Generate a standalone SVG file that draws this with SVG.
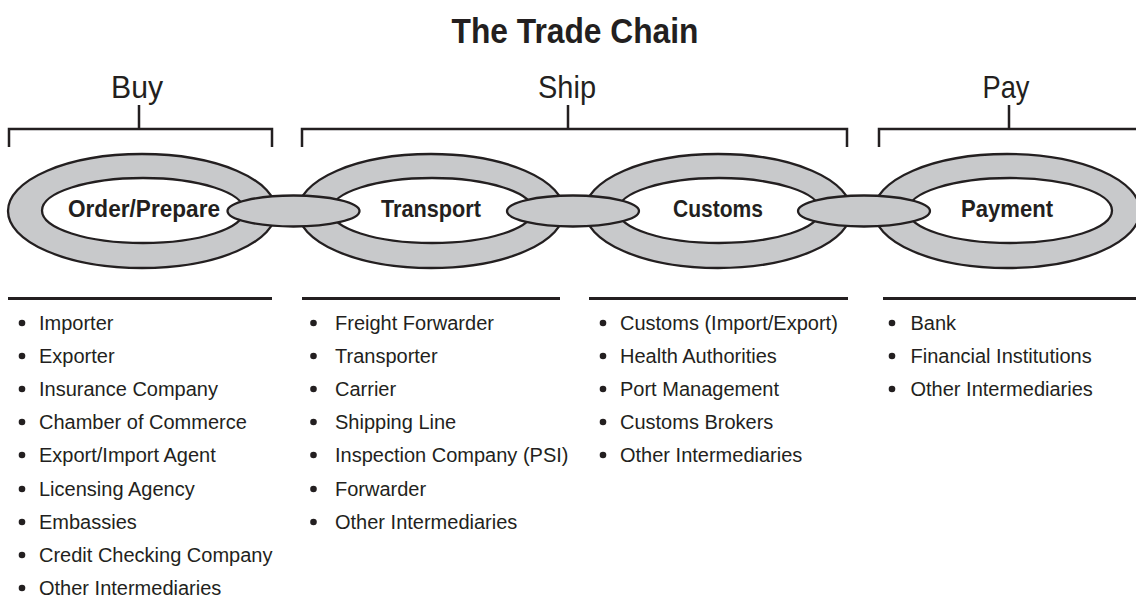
<svg xmlns="http://www.w3.org/2000/svg" width="1136" height="601" viewBox="0 0 1136 601">
  <style>
    .title { font-family: "Liberation Sans Narrow", "Liberation Sans", Arial, sans-serif; font-weight: bold; font-size: 35px; fill: #231f20; text-anchor: middle; }
    .phase { font-family: "Liberation Sans", Arial, sans-serif; font-size: 32px; fill: #231f20; text-anchor: middle; }
    .label { font-family: "Liberation Sans Narrow", "Liberation Sans", Arial, sans-serif; font-weight: bold; font-size: 24px; fill: #231f20; text-anchor: middle; }
    .item { font-family: "Liberation Sans", Arial, sans-serif; font-size: 20px; fill: #231f20; }
    .dot { fill: #231f20; }
    .bracket { fill: none; stroke: #231f20; stroke-width: 2.5; }
    .rule { stroke: #231f20; stroke-width: 3; }
    .ring { fill: #c8c9cb; stroke: #231f20; stroke-width: 2.3; }
    .hole { fill: #ffffff; stroke: #231f20; stroke-width: 2.3; }
    .joint { fill: #c8c9cb; stroke: #231f20; stroke-width: 2.3; }
  </style>

  <text class="title" x="575" y="43" textLength="247" lengthAdjust="spacingAndGlyphs">The Trade Chain</text>

  <!-- phase brackets -->
  <g id="phase-buy">
    <text class="phase" x="137" y="98" textLength="52" lengthAdjust="spacingAndGlyphs">Buy</text>
    <path class="bracket" d="M9,147 V129 H272 V147 M139,105 V129"/>
  </g>
  <g id="phase-ship">
    <text class="phase" x="567" y="98" textLength="58" lengthAdjust="spacingAndGlyphs">Ship</text>
    <path class="bracket" d="M302,147 V129 H847 V147 M568,105 V129"/>
  </g>
  <g id="phase-pay">
    <text class="phase" x="1006" y="98" textLength="47" lengthAdjust="spacingAndGlyphs">Pay</text>
    <path class="bracket" d="M879,147 V129 H1140 M1009,105 V129"/>
  </g>

  <!-- chain links -->
  <g id="node-order-prepare">
    <ellipse class="ring" cx="142" cy="211" rx="134" ry="57"/>
    <ellipse class="hole" cx="143" cy="210.5" rx="101" ry="32.5"/>
    <text class="label" x="144" y="217" textLength="152" lengthAdjust="spacingAndGlyphs">Order/Prepare</text>
  </g>
  <g id="node-transport">
    <ellipse class="ring" cx="431" cy="211" rx="133" ry="57"/>
    <ellipse class="hole" cx="432" cy="210.5" rx="101" ry="32.5"/>
    <text class="label" x="431" y="217" textLength="100" lengthAdjust="spacingAndGlyphs">Transport</text>
  </g>
  <g id="node-customs">
    <ellipse class="ring" cx="718" cy="211" rx="133" ry="57"/>
    <ellipse class="hole" cx="719" cy="210.5" rx="101" ry="32.5"/>
    <text class="label" x="718" y="217" textLength="90" lengthAdjust="spacingAndGlyphs">Customs</text>
  </g>
  <g id="node-payment">
    <ellipse class="ring" cx="1007" cy="211" rx="133" ry="57"/>
    <ellipse class="hole" cx="1010" cy="210.5" rx="102" ry="32.5"/>
    <text class="label" x="1007" y="217" textLength="92" lengthAdjust="spacingAndGlyphs">Payment</text>
  </g>

  <!-- joining links between the chain links -->
  <g id="connectors">
    <ellipse class="joint" cx="293.5" cy="211" rx="66" ry="15.5"/>
    <ellipse class="joint" cx="573" cy="211" rx="66" ry="15.5"/>
    <ellipse class="joint" cx="864" cy="211" rx="66" ry="15.5"/>
  </g>

  <!-- participant lists -->
  <g id="list-order-prepare">
    <line class="rule" x1="8" y1="298.5" x2="272" y2="298.5"/>
    <g class="dot">
      <circle cx="22" cy="323" r="3.3"/><circle cx="22" cy="356" r="3.3"/><circle cx="22" cy="389" r="3.3"/>
      <circle cx="22" cy="422" r="3.3"/><circle cx="22" cy="455" r="3.3"/><circle cx="22" cy="489" r="3.3"/>
      <circle cx="22" cy="522" r="3.3"/><circle cx="22" cy="555" r="3.3"/><circle cx="22" cy="588" r="3.3"/>
    </g>
    <g class="item">
      <text x="39" y="330">Importer</text>
      <text x="39" y="363">Exporter</text>
      <text x="39" y="396">Insurance Company</text>
      <text x="39" y="429">Chamber of Commerce</text>
      <text x="39" y="462">Export/Import Agent</text>
      <text x="39" y="496">Licensing Agency</text>
      <text x="39" y="529">Embassies</text>
      <text x="39" y="562">Credit Checking Company</text>
      <text x="39" y="595">Other Intermediaries</text>
    </g>
  </g>
  <g id="list-transport">
    <line class="rule" x1="302" y1="298.5" x2="560" y2="298.5"/>
    <g class="dot">
      <circle cx="313.5" cy="323" r="3.3"/><circle cx="313.5" cy="356" r="3.3"/><circle cx="313.5" cy="389" r="3.3"/>
      <circle cx="313.5" cy="422" r="3.3"/><circle cx="313.5" cy="455" r="3.3"/><circle cx="313.5" cy="489" r="3.3"/>
      <circle cx="313.5" cy="522" r="3.3"/>
    </g>
    <g class="item">
      <text x="335" y="330">Freight Forwarder</text>
      <text x="335" y="363">Transporter</text>
      <text x="335" y="396">Carrier</text>
      <text x="335" y="429">Shipping Line</text>
      <text x="335" y="462">Inspection Company (PSI)</text>
      <text x="335" y="496">Forwarder</text>
      <text x="335" y="529">Other Intermediaries</text>
    </g>
  </g>
  <g id="list-customs">
    <line class="rule" x1="589" y1="298.5" x2="848" y2="298.5"/>
    <g class="dot">
      <circle cx="603" cy="323" r="3.3"/><circle cx="603" cy="356" r="3.3"/><circle cx="603" cy="389" r="3.3"/>
      <circle cx="603" cy="422" r="3.3"/><circle cx="603" cy="455" r="3.3"/>
    </g>
    <g class="item">
      <text x="620" y="330">Customs (Import/Export)</text>
      <text x="620" y="363">Health Authorities</text>
      <text x="620" y="396">Port Management</text>
      <text x="620" y="429">Customs Brokers</text>
      <text x="620" y="462">Other Intermediaries</text>
    </g>
  </g>
  <g id="list-payment">
    <line class="rule" x1="883" y1="298.5" x2="1136" y2="298.5"/>
    <g class="dot">
      <circle cx="892" cy="323" r="3.3"/><circle cx="892" cy="356" r="3.3"/><circle cx="892" cy="389" r="3.3"/>
    </g>
    <g class="item">
      <text x="910.5" y="330">Bank</text>
      <text x="910.5" y="363">Financial Institutions</text>
      <text x="910.5" y="396">Other Intermediaries</text>
    </g>
  </g>
</svg>
